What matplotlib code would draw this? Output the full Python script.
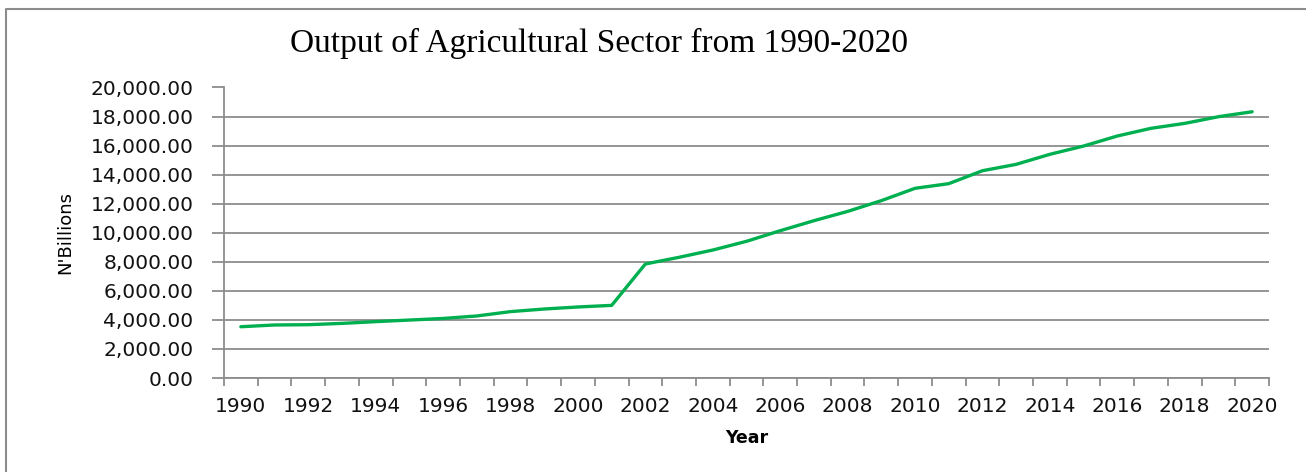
import matplotlib
matplotlib.use("Agg")
import matplotlib.pyplot as plt
from matplotlib.ticker import FuncFormatter, MultipleLocator
from matplotlib.lines import Line2D

# Output of the agricultural sector, N' billions
years = list(range(1990, 2021))
output = [3530, 3650, 3670, 3760, 3880, 3990, 4100, 4270, 4570, 4750,
          4890, 5000, 7850, 8310, 8810, 9410, 10140, 10830, 11470, 12210,
          13060, 13380, 14270, 14710, 15400, 15970, 16660, 17190, 17530, 17990,
          18330]
year_labels = [str(y) for y in range(1990, 2021, 2)]

grey = '#8c8c8c'

fig = plt.figure(figsize=(13.06, 4.72), dpi=100)
ax = fig.add_axes([224/1306, 1 - 378/472, (1269 - 224)/1306, (378 - 87.5)/472])

ax.plot(years, output, color='#00b050', linewidth=2.4, solid_capstyle='round')

ax.set_xlim(1989.5, 2020.5)
ax.set_ylim(0, 20000)

# y axis: gridlines every 2,000 with outward ticks
ax.yaxis.set_major_locator(MultipleLocator(2000))
ax.yaxis.set_major_formatter(FuncFormatter(lambda v, p: f'{v:,.2f}'))
ax.grid(axis='y', color=grey, linewidth=1.3)
ax.set_axisbelow(True)

# x axis: category ticks between the years, labels on every other year
ax.set_xticks(range(1990, 2021, 2))
ax.set_xticklabels(year_labels)
ax.set_xticks([y - 0.5 for y in range(1990, 2022)], minor=True)
ax.tick_params(axis='x', which='major', length=0, pad=14, labelsize=14.5, labelcolor='#111111')
ax.tick_params(axis='x', which='minor', length=6, width=1.3, color=grey)
ax.tick_params(axis='y', length=9, width=1.3, color=grey, pad=13, labelsize=14.5, labelcolor='#111111')

for side in ['top', 'right']:
    ax.spines[side].set_visible(False)
for side in ['left', 'bottom']:
    ax.spines[side].set_color(grey)
    ax.spines[side].set_linewidth(1.3)

ax.set_ylabel("N'Billions", family=['Liberation Sans Narrow', 'DejaVu Sans'], fontsize=13, labelpad=12)
ax.set_xlabel('Year', fontweight='bold', fontsize=12.5, labelpad=9)

fig.text(599/1306, 1 - 43/472, 'Output of Agricultural Sector from 1990-2020',
         family='Liberation Serif', fontsize=24, ha='center', va='center')

# chart frame
fig.add_artist(Line2D([6/1306, 6/1306, 1.0], [-0.05, 1 - 9/472, 1 - 9/472],
                      transform=fig.transFigure, color=grey, linewidth=1.5))

fig.savefig('out.png', dpi=100)
